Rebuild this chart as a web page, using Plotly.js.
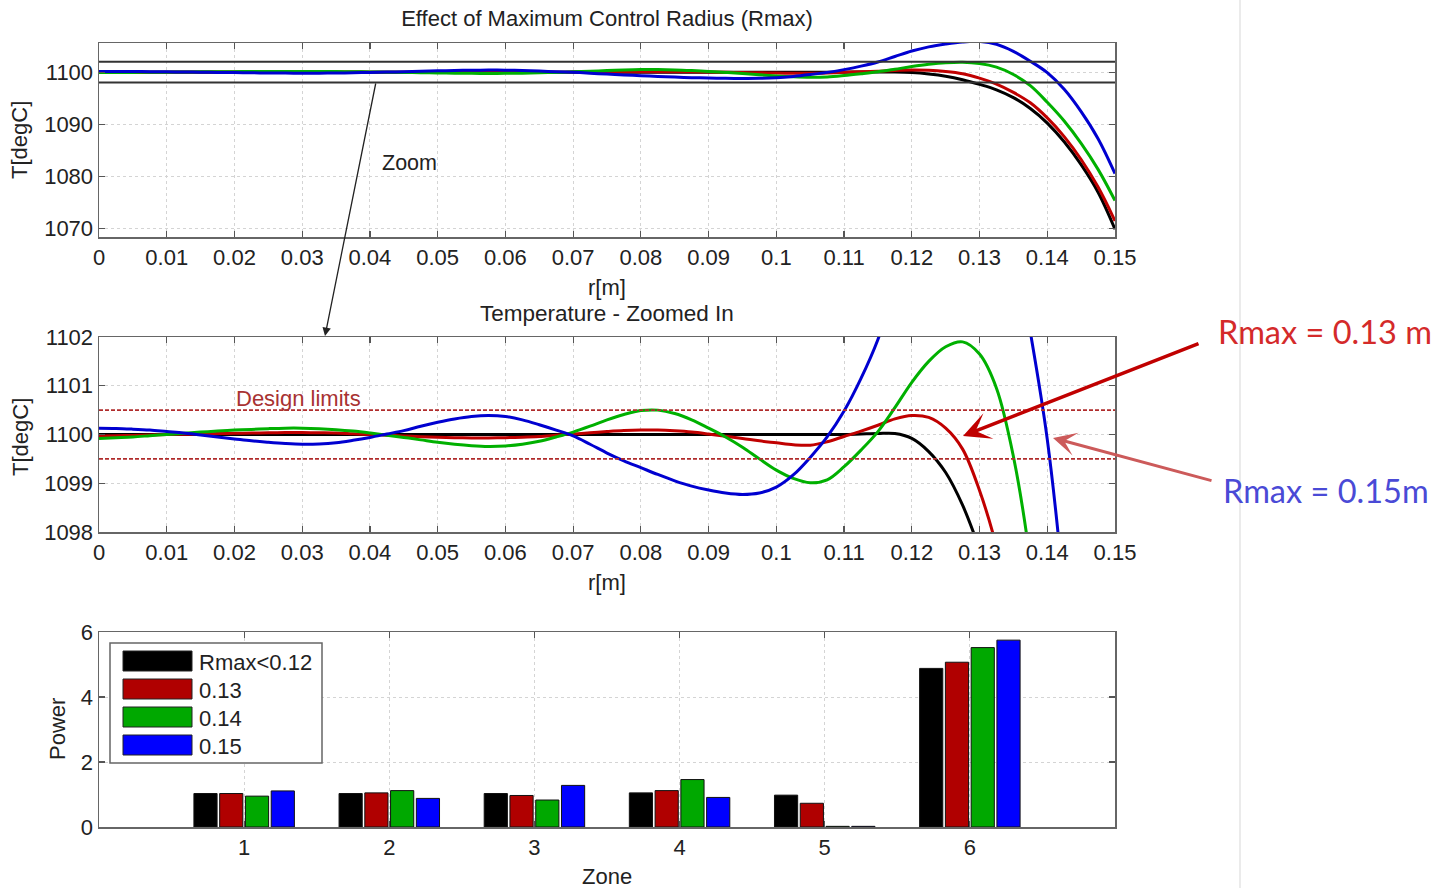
<!DOCTYPE html>
<html><head><meta charset="utf-8">
<script src="https://cdn.plot.ly/plotly-3.0.1.min.js"></script>
<style>html,body{margin:0;padding:0;background:#fff}#chart{width:1450px;height:888px}</style>
</head><body><div id="chart"></div>
<script>
// ---- data ----
const r = [0,0.0025,0.005,0.0075,0.01,0.0125,0.015,0.0175,0.02,0.0225,0.025,0.0275,0.03,0.0325,0.035,0.0375,
  0.04,0.0425,0.045,0.0475,0.05,0.0525,0.055,0.0575,0.06,0.0625,0.065,0.0675,0.07,0.0725,0.075,0.0775,
  0.08,0.0825,0.085,0.0875,0.09,0.0925,0.095,0.0975,0.1,0.1025,0.105,0.1075,0.11,0.1125,0.115,0.1175,
  0.12,0.1225,0.125,0.1275,0.13,0.1325,0.135,0.1375,0.14,0.1425,0.145,0.1475,0.15];
const tBlack = [1100,1100,1100,1100,1100,1100,1100,1100,1100,1100,1100,1100,1100,1100,1100,1100,
  1100,1100,1100,1100,1100,1100,1100,1100,1100,1100,1100,1100,1100,1100,1100,1100,
  1100,1100,1100,1100,1100,1100,1100,1100,1100,1100,1100,1100,1100,1100.01,1100.02,1100.02,
  1099.92,1099.65,1099.22,1098.55,1097.65,1096.6,1095.1,1093.0,1090.2,1086.6,1082.2,1076.9,1069.8];
const tRed = [1099.97,1099.975,1099.98,1099.99,1100.0,1100.005,1100.01,1100.02,1100.025,1100.03,1100.035,1100.04,1100.04,1100.035,1100.03,1100.015,
  1100.0,1099.985,1099.97,1099.955,1099.945,1099.935,1099.93,1099.93,1099.935,1099.945,1099.96,1099.985,1100.01,1100.035,1100.06,1100.08,
  1100.09,1100.09,1100.075,1100.05,1100.01,1099.965,1099.92,1099.87,1099.83,1099.79,1099.78,1099.85,1099.96,1100.07,1100.19,1100.32,
  1100.39,1100.35,1100.13,1099.7,1098.85,1097.7,1096.1,1094.1,1091.2,1087.6,1083.2,1077.9,1071.4];
const tGreen = [1099.92,1099.935,1099.95,1099.975,1100.0,1100.025,1100.05,1100.07,1100.09,1100.105,1100.12,1100.13,1100.13,1100.12,1100.1,1100.07,
  1100.03,1099.985,1099.94,1099.89,1099.84,1099.8,1099.77,1099.755,1099.765,1099.8,1099.86,1099.95,1100.05,1100.17,1100.3,1100.41,
  1100.49,1100.5,1100.43,1100.3,1100.13,1099.95,1099.74,1099.5,1099.27,1099.1,1099.01,1099.07,1099.34,1099.68,1100.06,1100.55,
  1101.07,1101.5,1101.8,1101.9,1101.65,1100.95,1099.55,1097.4,1094.2,1090.6,1086.3,1081.3,1075.3];
const tBlue = [1100.13,1100.125,1100.11,1100.09,1100.06,1100.03,1099.99,1099.95,1099.91,1099.87,1099.84,1099.815,1099.8,1099.805,1099.83,1099.88,
  1099.94,1100.01,1100.08,1100.17,1100.25,1100.32,1100.37,1100.39,1100.37,1100.3,1100.2,1100.09,1099.97,1099.8,1099.62,1099.46,
  1099.32,1099.18,1099.05,1098.94,1098.86,1098.8,1098.77,1098.8,1098.92,1099.17,1099.53,1099.95,1100.48,1101.15,1101.95,1103.0,
  1104.05,1104.85,1105.4,1105.8,1105.9,1105.35,1104.0,1102.1,1099.9,1096.7,1092.4,1087.2,1080.5];

const seriesNames = ['Rmax<0.12','0.13','0.14','0.15'];
const zones = [1,2,3,4,5,6];
const powBlack = [1.03,1.03,1.03,1.05,0.98,4.88];
const powRed   = [1.03,1.05,0.97,1.12,0.73,5.07];
const powGreen = [0.95,1.12,0.83,1.46,0.02,5.52];
const powBlue  = [1.11,0.88,1.28,0.91,0.02,5.75];
const zoomBand = [1098,1102];
const designLimits = [1099.5,1100.5];

// ---- style ----
const W = 1450, H = 888;
const px = x => x / W, py = y => 1 - y / H;
const lineColors = ['#000000','#c00000','#00b000','#0000d0'];
const barColors  = ['#000000','#b00000','#00a800','#0000ff'];
const FONT = 'Liberation Sans, Arial, sans-serif';
const temps = [tBlack, tRed, tGreen, tBlue];
const powers = [powBlack, powRed, powGreen, powBlue];

const traces = [];
['x','x2'].forEach((xa, k) => {
  temps.forEach((t, i) => {
    traces.push({x: r, y: t, xaxis: xa, yaxis: k ? 'y2' : 'y', type: 'scatter', mode: 'lines', name: seriesNames[i],
      line: {color: lineColors[i], width: 3, shape: 'spline', smoothing: 1}, showlegend: false, hoverinfo: 'skip'});
  });
});
powers.forEach((p, i) => {
  traces.push({x: zones, y: p, xaxis: 'x3', yaxis: 'y3', type: 'bar', name: seriesNames[i],
    marker: {color: barColors[i], line: {color: '#111', width: 1}}, showlegend: false, hoverinfo: 'skip'});
});

const xDom = [px(99), px(1115)];
const axBase = {
  showline: true, linecolor: '#666', linewidth: 1.5, mirror: 'ticks',
  ticks: 'inside', ticklen: 6, tickcolor: '#555', tickwidth: 1.2,
  showgrid: true, gridcolor: '#d4d4d4', griddash: 'dot', gridwidth: 1,
  zeroline: false, tickfont: {family: FONT, size: 22, color: '#222'}, fixedrange: true
};
function ax(extra) { return Object.assign({}, axBase, extra); }

const shapes = [];
zoomBand.forEach(v => shapes.push({type: 'line', xref: 'x', yref: 'y', x0: 0, x1: 0.15, y0: v, y1: v,
  line: {color: '#333', width: 2}}));
designLimits.forEach(v => shapes.push({type: 'line', xref: 'x2', yref: 'y2', x0: 0, x1: 0.15, y0: v, y1: v,
  line: {color: '#b02c2c', width: 1.6, dash: '4px,2px'}}));
// slide edge
shapes.push({type: 'line', xref: 'paper', yref: 'paper', x0: px(1240), x1: px(1240), y0: 0, y1: 1,
  line: {color: '#e4e4e4', width: 1.5}});
// manual legend
shapes.push({type: 'rect', xref: 'paper', yref: 'paper', x0: px(110), x1: px(322), y0: py(763), y1: py(643),
  line: {color: '#666', width: 1.5}, fillcolor: '#ffffff'});
const legRows = [661, 689, 717, 745];

const annotations = [];
function txt(text, x, y, opts) {
  annotations.push(Object.assign({text: text, x: px(x), y: py(y), xref: 'paper', yref: 'paper', showarrow: false,
    xanchor: 'center', yanchor: 'middle', font: {family: FONT, size: 22, color: '#222'}}, opts || {}));
}
seriesNames.forEach((n, i) => {
  shapes.push({type: 'rect', xref: 'paper', yref: 'paper', x0: px(123), x1: px(192), y0: py(legRows[i] + 10), y1: py(legRows[i] - 10),
    line: {color: '#222', width: 1}, fillcolor: barColors[i]});
  txt(n.replace('<', '&lt;'), 197, legRows[i] + 1, {xanchor: 'left'});
});

txt('Temperature - Zoomed In', 607, 313, {font: {family: FONT, size: 22.5, color: '#222'}});
txt('r[m]', 607, 287);
txt('r[m]', 607, 582);
txt('Zone', 607, 876);
txt('T[degC]', 20, 140, {textangle: -90});
txt('T[degC]', 20, 437, {textangle: -90});
txt('Power', 57, 729, {textangle: -90});
txt('Zoom', 409, 163, {font: {family: FONT, size: 21.5, color: '#222'}});
txt('Design limits', 298, 398, {font: {family: FONT, size: 22, color: '#a83232'}});
txt('Rmax = 0.13 m', 1325, 331, {font: {family: 'Lato, Open Sans, sans-serif', size: 32.5, color: '#d42a2a'}});
txt('Rmax = 0.15m', 1326, 491, {font: {family: 'Lato, Open Sans, sans-serif', size: 32.5, color: '#4a4ad6'}});

// arrows
annotations.push({x: px(325), y: py(336), xref: 'paper', yref: 'paper', text: '', showarrow: true,
  ax: 51, ay: -254, arrowcolor: '#222', arrowwidth: 1.3, arrowhead: 2, arrowsize: 1.3});
annotations.push({x: px(963), y: py(436), xref: 'paper', yref: 'paper', text: '', showarrow: true,
  ax: 237, ay: -93, arrowcolor: '#c00000', arrowwidth: 3.5, arrowhead: 3, arrowsize: 1.3});
annotations.push({x: px(1053), y: py(438), xref: 'paper', yref: 'paper', text: '', showarrow: true,
  ax: 160, ay: 43, arrowcolor: '#cc5a5a', arrowwidth: 3, arrowhead: 3, arrowsize: 1.3});

const layout = {
  width: W, height: H, paper_bgcolor: '#fff', plot_bgcolor: '#fff',
  margin: {l: 0, r: 0, t: 0, b: 0}, showlegend: false,
  font: {family: FONT, color: '#222'},
  title: {text: 'Effect of Maximum Control Radius (Rmax)', x: px(607), xanchor: 'center', y: py(18), yanchor: 'middle',
    font: {family: FONT, size: 22, color: '#222'}},
  xaxis: ax({domain: xDom, anchor: 'y', range: [0, 0.15], tick0: 0, dtick: 0.01}),
  yaxis: ax({domain: [py(237), py(43)], anchor: 'x', range: [1068.3, 1105.6], tickvals: [1070, 1080, 1090, 1100]}),
  xaxis2: ax({domain: xDom, anchor: 'y2', range: [0, 0.15], tick0: 0, dtick: 0.01}),
  yaxis2: ax({domain: [py(532), py(337)], anchor: 'x2', range: [1098, 1102], tick0: 1098, dtick: 1}),
  xaxis3: ax({domain: xDom, anchor: 'y3', range: [0, 7], tickvals: zones}),
  yaxis3: ax({domain: [py(827), py(632)], anchor: 'x3', range: [0, 6], tick0: 0, dtick: 2}),
  barmode: 'group', bargap: 0.29, bargroupgap: 0.1,
  shapes: shapes, annotations: annotations
};

Plotly.newPlot('chart', traces, layout, {displayModeBar: false, staticPlot: true});
</script>
</body></html>
